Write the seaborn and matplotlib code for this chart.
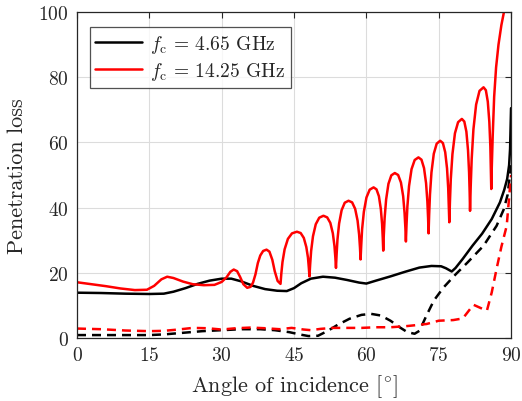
import matplotlib
matplotlib.use("Agg")
import matplotlib.pyplot as plt
import seaborn as sns

# 4.65 GHz, solid curve
angle_465 = [0, 5, 10, 15, 18, 20, 22.5, 25, 27.5, 30, 32, 34, 36.5, 39, 41.5, 43.5,
             45, 46.5, 48.5, 51, 53.5, 56, 58.5, 60, 62, 65, 68, 71, 73.5, 75.5,
             76.5, 77.7, 78.5, 80, 82, 84, 86, 87.7, 88.6, 89.2, 89.6, 89.8, 90]
loss_465 = [13.9, 13.8, 13.6, 13.5, 13.6, 14.2, 15.3, 16.6, 17.6, 18.2, 18.2, 17.4, 16.0, 15.0, 14.5, 14.4,
            15.3, 16.8, 18.2, 18.8, 18.5, 17.8, 17.0, 16.7, 17.6, 18.9, 20.3, 21.6, 22.1, 22.0,
            21.4, 20.4, 21.5, 24.3, 28.3, 32.0, 36.5, 41.6, 45.5, 48.8, 53.0, 58.0, 70.5]

# 4.65 GHz, dashed curve
angle_465_d = [0, 5, 10, 15, 18, 22, 26, 30, 34, 38, 41, 44, 46.5, 48, 50, 52, 54, 56.5, 59, 61,
               63, 65, 67, 68.5, 70, 71, 72.5, 74, 76, 78.5, 81, 84.3, 87, 88.5, 89.3, 90]
loss_465_d = [0.9, 0.9, 0.9, 0.9, 1.1, 1.6, 2.1, 2.4, 2.7, 2.7, 2.4, 1.8, 1.0, 0.6, 0.7, 2.2, 4.0, 5.9, 7.1, 7.4,
              6.9, 5.3, 3.2, 1.8, 1.3, 2.2, 7.0, 11.5, 15.5, 19.5, 23.2, 28.3, 34.4, 39.5, 44.0, 53.0]

# 14.25 GHz, solid curve
angle_1425 = [0, 3, 6, 9, 12, 14.5, 16, 17.5, 18.7, 20, 22, 24, 26.3, 28.5,
              30, 31.0, 31.8, 32.5, 33.2, 33.8, 34.5, 35.3, 36.0,
              36.5, 37.0, 37.5, 38.0, 38.6, 39.3, 39.9, 40.5, 41.0, 41.6, 42.2,
              42.37, 42.61, 43.05, 43.73, 44.58, 45.6, 46.38, 47.03, 47.55, 47.89, 48.07, 48.2,
              48.35, 48.55, 48.93, 49.51, 50.23, 51.1, 51.88, 52.53, 53.05, 53.39, 53.57, 53.7,
              53.83, 54.01, 54.35, 54.87, 55.52, 56.3, 57.05, 57.68, 58.18, 58.5, 58.68, 58.8,
              58.94, 59.12, 59.48, 60.02, 60.69, 61.5, 62.1, 62.6, 63.0, 63.26, 63.4, 63.5,
              63.62, 63.79, 64.1, 64.58, 65.18, 65.9, 66.59, 67.17, 67.63, 67.92, 68.09, 68.2,
              68.33, 68.51, 68.85, 69.37, 70.02, 70.8, 71.43, 71.96, 72.38, 72.65, 72.8, 72.9,
              73.02, 73.19, 73.5, 73.98, 74.58, 75.3, 75.87, 76.35, 76.73, 76.97, 77.1, 77.2,
              77.33, 77.51, 77.85, 78.37, 79.02, 79.8, 80.31, 80.74, 81.08, 81.3, 81.42, 81.5,
              81.64, 81.84, 82.2, 82.76, 83.46, 84.3, 84.78, 85.18, 85.5, 85.71, 85.82, 85.9,
              86.0, 86.2, 86.5, 86.9, 87.4, 88.0, 88.6, 89.2, 90]
loss_1425 = [17.1, 16.5, 15.9, 15.2, 14.7, 14.8, 16.0, 18.0, 18.8, 18.4, 17.3, 16.5, 16.2, 16.3,
             17.2, 18.6, 20.3, 21.0, 20.5, 18.8, 16.5, 15.4, 15.7,
             17.0, 19.5, 23.0, 25.3, 26.7, 27.1, 26.5, 24.0, 20.5, 17.5, 16.6,
             19.8, 23.3, 27.2, 30.4, 32.1, 32.6, 32.2, 30.7, 27.9, 24.7, 21.6, 18.9,
             22.6, 26.7, 31.2, 34.9, 36.9, 37.5, 37.0, 35.3, 32.1, 28.2, 24.7, 21.5,
             25.6, 30.2, 35.1, 39.2, 41.5, 42.1, 41.6, 39.6, 36.0, 31.7, 27.7, 24.1,
             28.5, 33.4, 38.7, 43.1, 45.5, 46.2, 45.6, 43.5, 39.6, 35.0, 30.7, 26.8,
             31.6, 36.8, 42.5, 47.3, 49.9, 50.6, 50.0, 47.7, 43.5, 38.4, 33.8, 29.6,
             34.8, 40.4, 46.6, 51.8, 54.6, 55.4, 54.7, 52.1, 47.5, 41.9, 36.8, 32.1,
             37.8, 44.0, 50.8, 56.5, 59.6, 60.5, 59.8, 57.0, 52.0, 46.0, 40.5, 35.5,
             41.8, 48.8, 56.4, 62.8, 66.2, 67.2, 66.4, 63.3, 57.6, 50.8, 44.6, 39.0,
             46.6, 54.9, 64.0, 71.6, 75.8, 76.9, 76.0, 72.5, 66.3, 58.8, 51.9, 45.7,
             52.0, 62.0, 74.0, 83.0, 90.0, 96.0, 100.5, 106.0, 112.0]

# 14.25 GHz, dashed curve
angle_1425_d = [0, 5, 10, 15, 18, 21, 24, 27, 30, 33, 36, 39, 42, 44.5, 47, 48.5, 50.5, 53, 56, 59,
                62, 65, 68, 70, 72.5, 75, 78, 80, 82.2, 84, 85, 86, 87, 88, 89.1, 90]
loss_1425_d = [2.9, 2.7, 2.3, 2.1, 2.2, 2.6, 3.1, 3.0, 2.6, 3.0, 3.2, 3.0, 2.7, 3.1, 2.6, 2.4, 2.8, 3.1, 3.1, 3.1,
               3.3, 3.3, 3.6, 3.9, 4.3, 5.3, 5.5, 6.0, 10.2, 9.0, 8.4, 14.0, 21.2, 28.0, 34.4, 50.0]

x_ticks = [0, 15, 30, 45, 60, 75, 90]
y_ticks = [0, 20, 40, 60, 80, 100]
legend_labels = [r"$f_{\mathrm{c}}$ = 4.65 GHz", r"$f_{\mathrm{c}}$ = 14.25 GHz"]

sns.set_style("white")
plt.rcParams["font.family"] = ["cmr10", "DejaVu Serif"]
plt.rcParams["mathtext.fontset"] = "cm"
plt.rcParams["axes.unicode_minus"] = False
plt.rcParams["axes.formatter.use_mathtext"] = True

fig = plt.figure(figsize=(5.22, 4.02), dpi=100)
ax = fig.add_axes([0.1475, 0.1567, 0.8315, 0.811])

dash = (0, (3.6, 2.4))
lw = 1.8
sns.lineplot(x=angle_465, y=loss_465, ax=ax, color="black", lw=lw, estimator=None, label=legend_labels[0])
sns.lineplot(x=angle_1425, y=loss_1425, ax=ax, color="red", lw=lw, estimator=None, label=legend_labels[1])
sns.lineplot(x=angle_465_d, y=loss_465_d, ax=ax, color="black", lw=lw, estimator=None, linestyle=dash)
sns.lineplot(x=angle_1425_d, y=loss_1425_d, ax=ax, color="red", lw=lw, estimator=None, linestyle=dash)

ax.set_xlim(0, 90)
ax.set_ylim(0, 100)
ax.set_xticks(x_ticks)
ax.set_yticks(y_ticks)
ax.grid(True, color="#dcdcdc", lw=0.8)
ax.set_axisbelow(True)
ax.tick_params(direction="in", length=4, width=0.8, top=True, right=True,
               labelsize=14, colors="#262626", pad=6)
for s in ax.spines.values():
    s.set_color("#262626")
    s.set_linewidth(0.9)

ax.set_xlabel(r"Angle of incidence [$^{\circ}$]", fontsize=16, color="#262626", labelpad=6)
ax.set_ylabel("Penetration loss", fontsize=16, color="#262626", labelpad=8)

leg = ax.legend(loc="upper left", bbox_to_anchor=(0.02, 0.965), fontsize=14, frameon=True,
                fancybox=False, edgecolor="#262626", handlelength=2.4, handletextpad=0.4,
                borderpad=0.3, labelspacing=0.25, borderaxespad=0.2)
leg.get_frame().set_linewidth(0.9)

fig.savefig("out.png", dpi=100)
